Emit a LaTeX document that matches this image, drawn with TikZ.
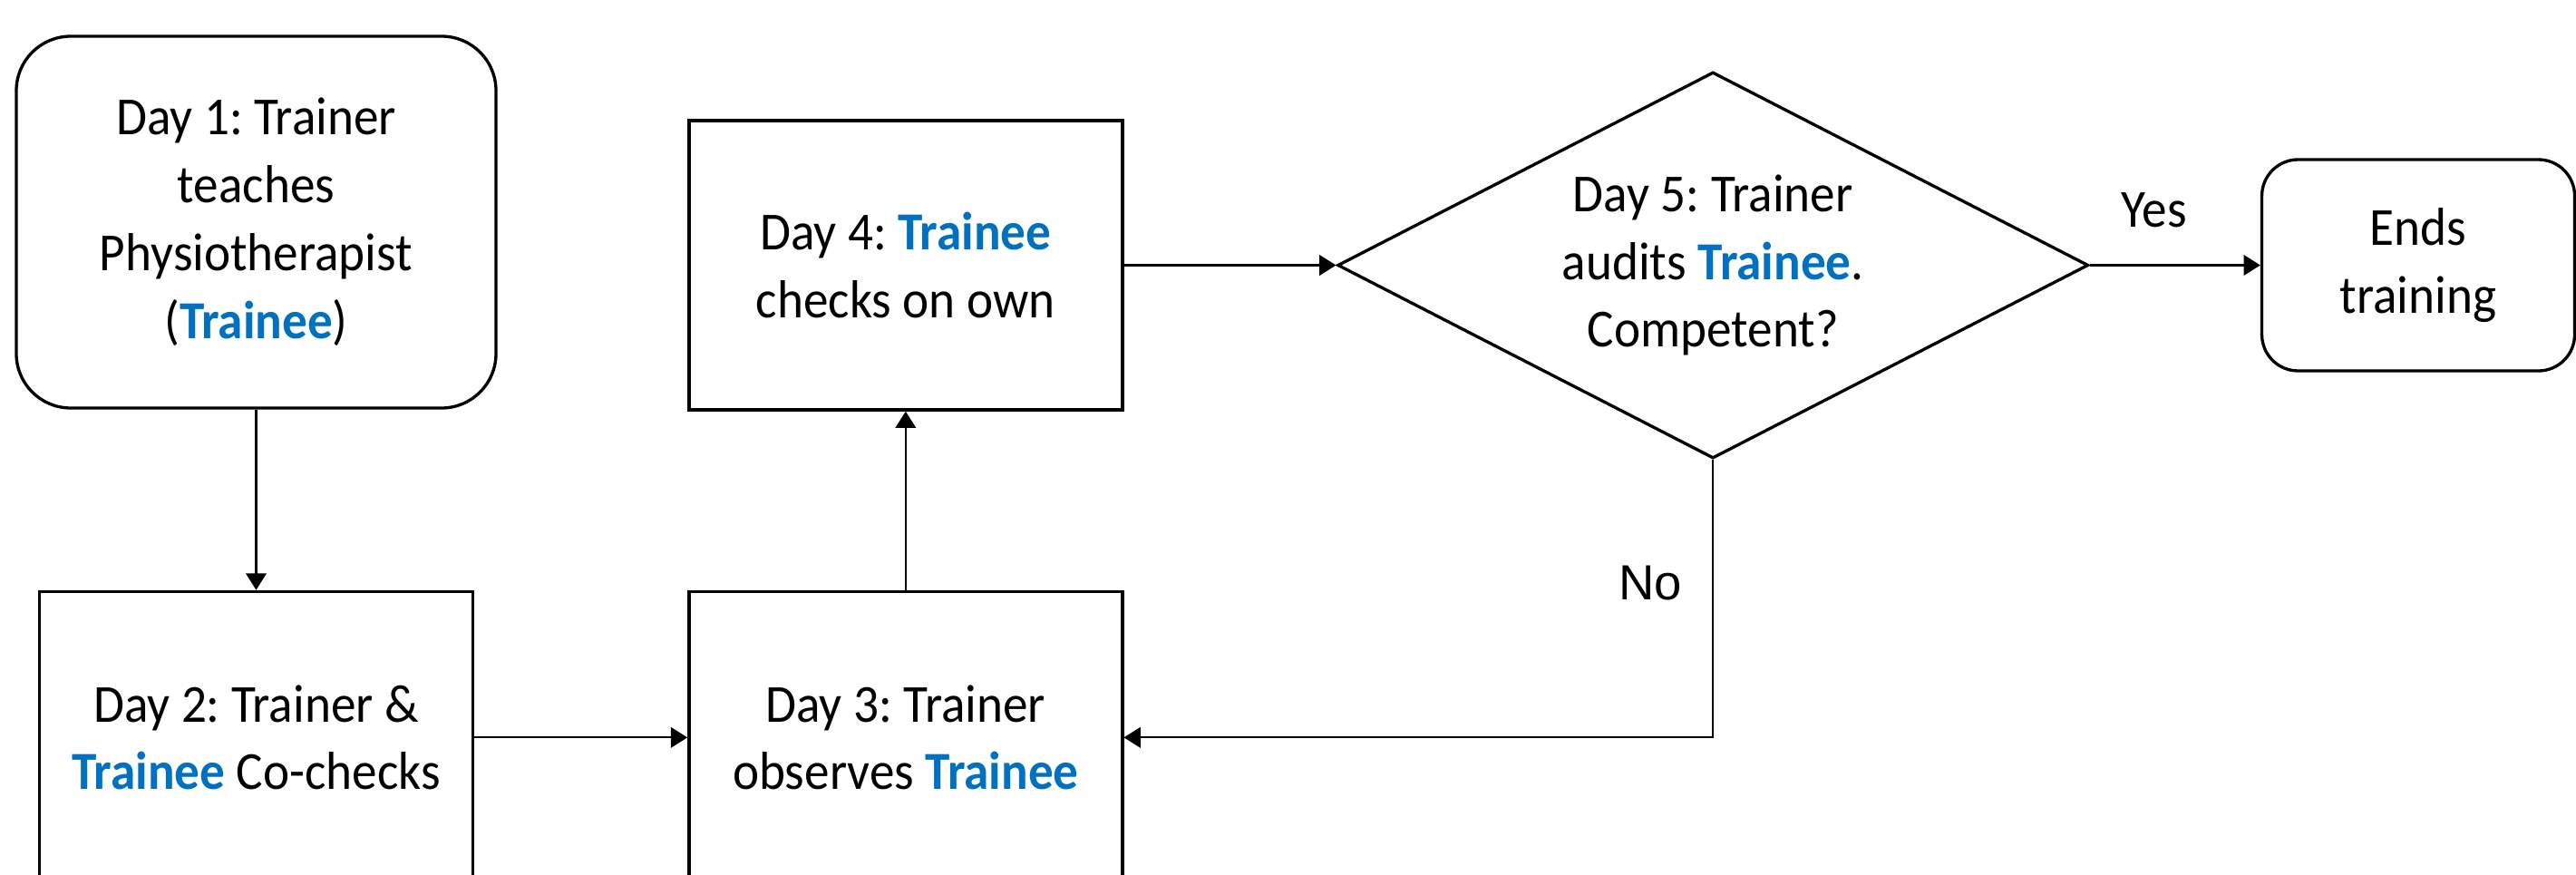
\documentclass[tikz,border=0pt]{standalone}
\usepackage{fontspec}
\setmainfont{Carlito}[FakeStretch=0.935]
\newfontfamily\labelfont{Liberation Sans}
\usepackage{tikz}
\usetikzlibrary{arrows.meta,positioning,shapes.geometric}
\definecolor{traineeblue}{HTML}{0070C0}
\newcommand{\trainee}{\textcolor{traineeblue}{\textbf{Trainee}}}
\frenchspacing

\begin{document}
\begin{tikzpicture}[node distance=1cm]
\tikzset{basicbox/.style={draw=black, line width=0.95pt, fill=white, align=center, text=black, inner sep=0pt, font=\fontsize{16.8}{21.3}\selectfont}, daybox/.style={basicbox, minimum width=4.78cm, minimum height=3.22cm}, roundbox/.style={basicbox, rounded corners=0.6cm}, decision/.style={basicbox, diamond, aspect=1.94, minimum width=8.28cm, minimum height=4.26cm}, arrowstyle/.style={-{Triangle[length=5.2pt, width=6.4pt]}, line width=0.6pt, black}, answer/.style={font=\fontsize{16.8}{21.3}\selectfont}}
\clip (0,0) rectangle (28.41,-9.64);
\node[roundbox, minimum width=5.29cm, minimum height=4.10cm] (day1) at (2.825,-2.45) {Day 1: Trainer\\teaches\\Physiotherapist\\(\trainee)};
\node[daybox, below=1.99cm of day1] (day2) {Day 2: Trainer \&\\\trainee{} Co-checks};
\node[daybox, right=2.35cm of day2] (day3) {Day 3: Trainer\\observes \trainee};
\node[daybox, minimum height=3.19cm, above=1.97cm of day3] (day4) {Day 4: \trainee\\checks on own};
\node[decision, right=2.34cm of day4] (audit) {Day 5: Trainer\\audits \trainee.\\Competent?};
\node[roundbox, rounded corners=0.4cm, minimum width=3.45cm, minimum height=2.33cm, right=1.88cm of audit] (ends) {Ends\\training};
\draw[arrowstyle] (day1) -- (day2);
\draw[arrowstyle] (day2) -- (day3);
\draw[arrowstyle] (day3) -- (day4);
\draw[arrowstyle] (day4) -- (audit);
\draw[arrowstyle] (audit) -- node[answer, pos=0.376, yshift=0.61cm] {Yes} (ends);
% not competent: back to the observed day
\draw[arrowstyle] (audit.south) |- node[pos=0.222, xshift=-0.69cm, font=\labelfont\fontsize{15.5}{18}\selectfont] {No} (day3.east);
\end{tikzpicture}
\end{document}
